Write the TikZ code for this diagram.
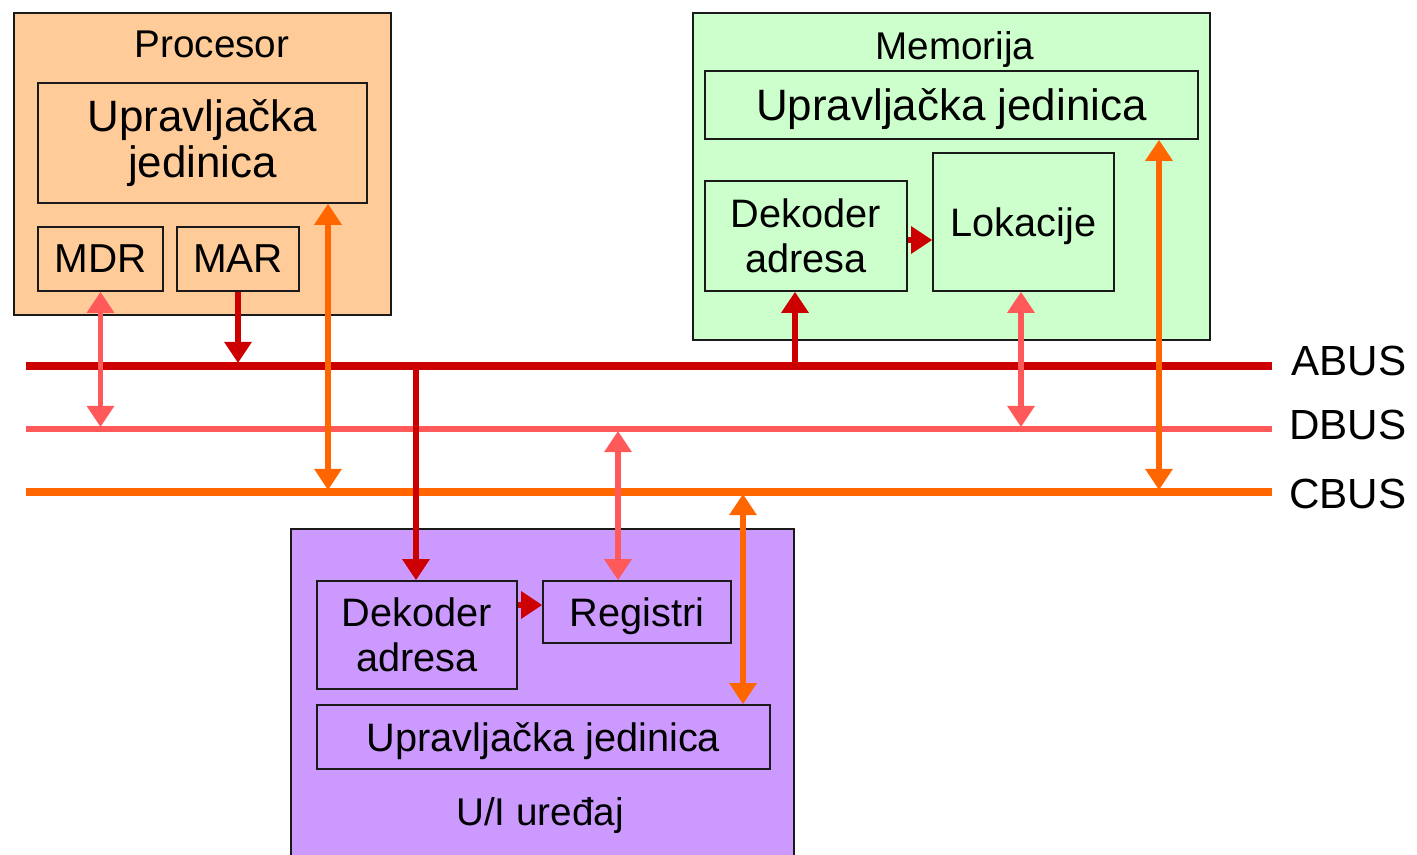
\documentclass[tikz,border=0pt]{standalone}
\usepackage{fontspec}
\setmainfont{Liberation Sans}
\usetikzlibrary{arrows.meta}
\definecolor{procfill}{HTML}{FFCC99}
\definecolor{memfill}{HTML}{CCFFCC}
\definecolor{uifill}{HTML}{CC99FF}
\definecolor{abusc}{HTML}{CC0000}
\definecolor{dbusc}{HTML}{FF5959}
\definecolor{cbusc}{HTML}{FF6600}
\definecolor{edge}{HTML}{1A1A1A}
\begin{document}
\begin{tikzpicture}[x=0.02cm,y=-0.02cm,
  outer/.style={draw=edge, line width=0.9pt, inner sep=0pt},
  box/.style={draw=edge, line width=0.9pt, inner sep=0pt, align=center,
    font=\fontsize{25}{26.6}\selectfont},
  sbox/.style={box, font=\fontsize{22.6}{25.5}\selectfont, text depth=0pt},
  title/.style={inner sep=0pt, anchor=base, font=\fontsize{22}{24}\selectfont},
  buslabel/.style={inner sep=0pt, anchor=base west, font=\fontsize{24}{26}\selectfont},
  abus/.style={draw=abusc, line width=4.5pt},
  dbus/.style={draw=dbusc, line width=3.4pt},
  cbus/.style={draw=cbusc, line width=4.5pt},
  tip/.style={-{Triangle[width=15pt,length=12pt]}},
  tips/.style={{Triangle[width=15pt,length=12pt]}-{Triangle[width=15pt,length=12pt]}},
  aarr/.style={draw=abusc, line width=3.2pt},
  darr/.style={draw=dbusc, line width=3.2pt},
  carr/.style={draw=cbusc, line width=3.2pt},
]
\clip (0,0) rectangle (1417,855);
\fill[white] (0,0) rectangle (1417,855);

% Processor
\node[outer, fill=procfill, minimum width=7.54cm, minimum height=6.04cm] (proc) at (202.5,164) {};
\node[title] (proct) at (212,58) {Procesor};
\node[box, minimum width=6.58cm, minimum height=2.4cm] (puj) at (202.5,143) {Upravljačka\\jedinica};
\node[box, font=\fontsize{23}{25}\selectfont, minimum width=2.5cm, minimum height=1.28cm] (mdr) at (100.5,259) {MDR};
\node[box, font=\fontsize{23}{25}\selectfont, minimum width=2.44cm, minimum height=1.28cm] (mar) at (238,259) {MAR};

% Memory
\node[outer, fill=memfill, minimum width=10.34cm, minimum height=6.54cm] (mem) at (951.5,176.5) {};
\node[title] (memt) at (955,60) {Memorija};
\node[box, text depth=0pt, minimum width=9.86cm, minimum height=1.36cm] (muj) at (951.5,105) {Upravljačka jedinica};
\node[sbox, minimum width=4.04cm, minimum height=2.2cm] (mdek) at (806,236) {Dekoder\\adresa};
\node[sbox, minimum width=3.62cm, minimum height=2.76cm] (lok) at (1023.5,222) {Lokacije};

% U/I device
\node[outer, fill=uifill, minimum width=10.06cm, minimum height=6.62cm] (ui) at (542.5,694.5) {};
\node[sbox, minimum width=4.0cm, minimum height=2.16cm] (udek) at (417,635) {Dekoder\\adresa};
\node[sbox, minimum width=3.76cm, minimum height=1.24cm] (reg) at (637,612) {Registri};
\node[sbox, minimum width=9.06cm, minimum height=1.28cm] (uuj) at (543.5,737) {Upravljačka jedinica};
\node[title] (uit) at (540,825) {U/I uređaj};

% Buses
\coordinate (aL) at (26,366);  \coordinate (aR) at (1272,366);
\coordinate (dL) at (26,429);  \coordinate (dR) at (1272,429);
\coordinate (cL) at (26,492);  \coordinate (cR) at (1272,492);
\draw[abus] (aL) -- (aR);
\draw[dbus] (dL) -- (dR);
\draw[cbus] (cL) -- (cR);
\node[buslabel] (abl) at (1291,375) {ABUS};
\node[buslabel] (dbl) at (1289,439) {DBUS};
\node[buslabel] (cbl) at (1289,508) {CBUS};

% bus tap points
\coordinate (t1) at (100.5,427);
\coordinate (t2) at (238,363);
\coordinate (t3) at (328,490);
\coordinate (t4) at (416,366);
\coordinate (t5) at (618,431);
\coordinate (t6) at (743,494);
\coordinate (t7) at (795,366);
\coordinate (t8) at (1021,427);
\coordinate (t9) at (1159,490);

% Connectors
\draw[darr, tips] (mdr.south) -- (t1);
\draw[aarr, tip] (mar.south) -- (t2);
\draw[carr, tips] (t3 |- puj.south) -- (t3);
\draw[aarr, tip] (t4) -- (t4 |- udek.north);
\draw[darr, tips] (t5) -- (t5 |- reg.north);
\draw[carr, tips] (t6) -- (t6 |- uuj.north);
\draw[aarr, tip] (t7) -- (t7 |- mdek.south);
\draw[darr, tips] (t8 |- lok.south) -- (t8);
\draw[carr, tips] (t9 |- muj.south) -- (t9);
\draw[aarr, tip] (mdek.east |- 0,240) -- (lok.west |- 0,240);
\draw[aarr, tip] (udek.east |- 0,605) -- (reg.west |- 0,605);
\end{tikzpicture}
\end{document}
